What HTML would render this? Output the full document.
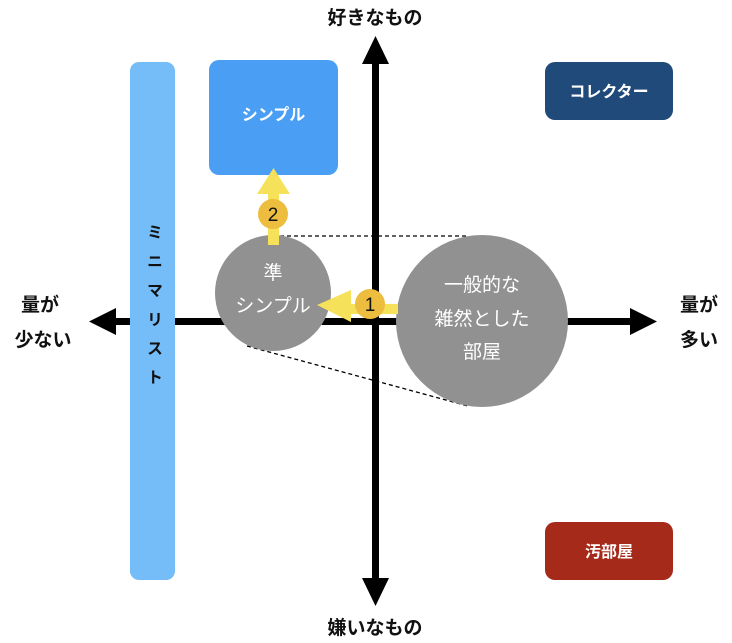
<!DOCTYPE html>
<html><head><meta charset="utf-8"><style>
html,body{margin:0;padding:0;background:#fff;}
svg{display:block;font-family:"Liberation Sans","Noto Sans CJK JP",sans-serif;}
</style></head><body>
<svg width="732" height="643" viewBox="0 0 732 643">
<rect x="209" y="60" width="129" height="115" rx="10" fill="#4a9ff5"/>
<text x="273.5" y="120" font-size="16" font-weight="bold" fill="#fff" text-anchor="middle">シンプル</text>
<rect x="545" y="62" width="128" height="58" rx="10" fill="#1f4a7a"/>
<text x="609" y="97" font-size="16" font-weight="bold" fill="#fff" text-anchor="middle">コレクター</text>
<rect x="545" y="522" width="128" height="58" rx="10" fill="#a52a1a"/>
<text x="609" y="557" font-size="16" font-weight="bold" fill="#fff" text-anchor="middle">汚部屋</text>
<rect x="372" y="60" width="7" height="525" fill="#000"/>
<polygon points="375.5,36 362,64 389,64" fill="#000"/>
<polygon points="375.5,606 362,578 389,578" fill="#000"/>
<rect x="110" y="318" width="525" height="7" fill="#000"/>
<polygon points="89,321.5 116,308 116,335" fill="#000"/>
<polygon points="657,321.5 630,308 630,335" fill="#000"/>
<rect x="130" y="62" width="45" height="518" rx="9" fill="#74bdf9"/>
<text x="152.5" y="224" font-size="16" font-weight="bold" fill="#111" writing-mode="tb" letter-spacing="13">ミニマリスト</text>
<line x1="280" y1="236" x2="468" y2="236" stroke="#000" stroke-width="1.3" stroke-dasharray="4,3"/>
<line x1="247" y1="346" x2="468" y2="406" stroke="#000" stroke-width="1.3" stroke-dasharray="4,3"/>
<circle cx="273" cy="293" r="58" fill="#919191"/>
<circle cx="482" cy="321" r="86" fill="#919191"/>
<text x="273" y="279" font-size="19" fill="#fff" text-anchor="middle">準</text>
<text x="273" y="312" font-size="19" fill="#fff" text-anchor="middle">シンプル</text>
<text x="482" y="291" font-size="19" fill="#fff" text-anchor="middle">一般的な</text>
<text x="482" y="325" font-size="19" fill="#fff" text-anchor="middle">雑然とした</text>
<text x="482" y="358" font-size="19" fill="#fff" text-anchor="middle">部屋</text>
<rect x="348" y="304" width="50" height="10" fill="#f5e15a"/>
<polygon points="317,305 351,290 351,322" fill="#f5e15a"/>
<circle cx="370" cy="304" r="15" fill="#ecbd3f"/>
<text x="370" y="311" font-size="19" fill="#111" text-anchor="middle">1</text>
<rect x="268" y="190" width="11" height="55" fill="#f5e15a"/>
<polygon points="273.5,168 257,194 290,194" fill="#f5e15a"/>
<circle cx="273" cy="214" r="15" fill="#ecbd3f"/>
<text x="273" y="221" font-size="19" fill="#111" text-anchor="middle">2</text>
<text x="375" y="24" font-size="19" font-weight="bold" fill="#111" text-anchor="middle">好きなもの</text>
<text x="375" y="634" font-size="19" font-weight="bold" fill="#111" text-anchor="middle">嫌いなもの</text>
<text x="40" y="311" font-size="19" font-weight="bold" fill="#111" text-anchor="middle">量が</text>
<text x="43" y="346" font-size="19" font-weight="bold" fill="#111" text-anchor="middle">少ない</text>
<text x="699" y="311" font-size="19" font-weight="bold" fill="#111" text-anchor="middle">量が</text>
<text x="699" y="346" font-size="19" font-weight="bold" fill="#111" text-anchor="middle">多い</text>
</svg>
</body></html>
